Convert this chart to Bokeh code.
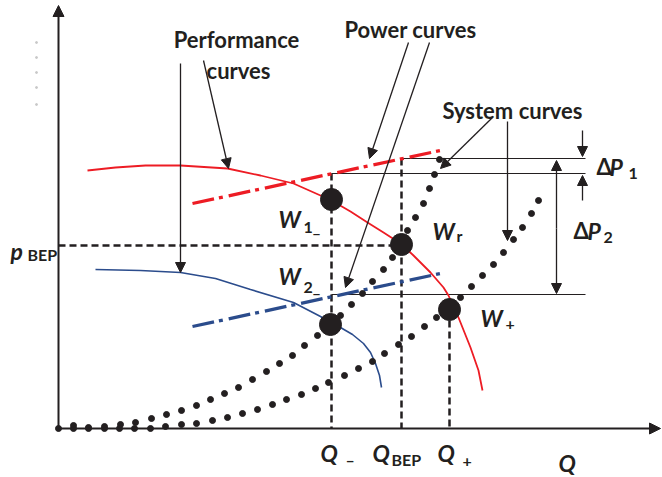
from bokeh.plotting import figure
from bokeh.models import Range1d, Arrow, NormalHead, ColumnDataSource
from bokeh.core.properties import value
from bokeh.embed import file_html
from bokeh.resources import INLINE

# ---- data (Q = flow, P = pressure) ----
red_Q = [29, 57, 87, 122, 169, 202, 235, 262, 273, 292, 309, 325, 342, 355, 372, 385, 390, 400, 412, 420, 424]
red_P = [258, 261, 263, 263, 260, 253, 245, 233, 228, 217, 206, 196, 185, 173, 156, 141, 133, 111, 81, 58, 38]

blue_Q = [37, 82, 122, 157, 192, 235, 262, 272, 282, 294, 305, 312, 317, 321, 323]
blue_P = [159, 158, 156, 150, 139, 126, 112, 106, 101, 94, 85, 76, 65, 53, 41]

power_red_Q = [134, 382]
power_red_P = [225, 278]
power_blue_Q = [134, 382]
power_blue_P = [102, 155]

sys1_Q = [0, 15, 30, 46, 62, 77, 93, 108, 123, 138, 152, 166, 180, 194, 208, 221, 234, 246, 259,
          282, 293, 304, 314, 325, 334, 349, 357, 365, 371, 376, 381]
sys1_P = [0, 3, 1, 2, 4, 6, 10, 14, 18, 23, 29, 35, 41, 49, 57, 65, 73, 83, 93,
          113, 124, 135, 147, 159, 171, 198, 211, 225, 240, 254, 269]

sys2_Q = [15, 30, 46, 61, 76, 92, 107, 123, 138, 154, 169, 184, 199, 214, 228, 243, 257, 270, 286, 300,
          314, 326, 340, 353, 366, 378, 402, 413, 424, 435, 445, 455, 464, 473, 480]
sys2_P = [0, 0, 0, 0, 0, 0, 2, 4, 5, 8, 11, 15, 19, 24, 29, 34, 40, 46, 53, 60,
          67, 75, 84, 92, 102, 111, 131, 142, 153, 164, 176, 189, 201, 215, 228]

op_names = ["W1_", "Wr", "W2_", "W+"]
op_Q = [273, 343, 272, 391]
op_P = [229, 184, 104, 119]

Q_minus, Q_bep, Q_plus = 273, 343, 391
p_bep = 183
dp_levels = [270, 255, 134]

BLACK = "#231f20"
RED = "#ed1c24"
BLUE = "#2b4c8c"
FONT = value("Lato")

p = figure(width=662, height=477, x_range=Range1d(-58, 604), y_range=Range1d(-49, 428),
           output_backend="svg", toolbar_location=None, min_border=0,
           x_axis_type=None, y_axis_type=None)
p.grid.visible = False
p.outline_line_color = None
p.background_fill_color = "white"
p.border_fill_color = "white"

# faint specks left of the axis
p.scatter([-22] * 5, [386, 371, 356, 341, 324], size=2, color="#c8c8c8")

# axes with arrowheads
axes_src = ColumnDataSource(dict(x0=[0, 0], y0=[0, 0], x1=[0, 602], y1=[423, 0]))
p.add_layout(Arrow(source=axes_src, x_start="x0", y_start="y0", x_end="x1", y_end="y1",
                   line_width=2, line_color=BLACK,
                   end=NormalHead(size=11, fill_color=BLACK, line_color=BLACK)))

# dashed reference lines
p.segment(x0=[0, Q_minus, Q_bep, Q_plus], y0=[p_bep, 255, 270, op_P[3]],
          x1=[Q_bep, Q_minus, Q_bep, Q_plus], y1=[p_bep, 0, 0, 0],
          line_color=BLACK, line_width=2.5, line_dash="7 4")

# thin horizontal lines to delta-P
p.segment(x0=[Q_bep, Q_minus, Q_minus], y0=dp_levels, x1=[527, 527, 527], y1=dp_levels,
          line_color=BLACK, line_width=1.2)

# performance curves
p.line(red_Q, red_P, line_color=RED, line_width=1.8)
p.line(blue_Q, blue_P, line_color=BLUE, line_width=1.6)

# power curves (dash-dot)
p.line(power_red_Q, power_red_P, line_color=RED, line_width=3.3, line_dash="22 5 4 6")
p.line(power_blue_Q, power_blue_P, line_color=BLUE, line_width=3.3, line_dash="22 5 4 6")

# system curves (dotted)
p.scatter(sys1_Q, sys1_P, size=6, color=BLACK)
p.scatter(sys2_Q, sys2_P, size=6, color=BLACK)

# operating points
p.scatter(op_Q, op_P, size=22, color=BLACK)

# annotation arrows
ann = ColumnDataSource(dict(
    x0=[122, 145, 350, 371, 434, 449, 524, 524],
    y0=[365, 368, 386, 386, 311, 307, 298, 228],
    x1=[122, 170, 311, 287, 382, 449, 524, 524],
    y1=[156, 260, 270, 141, 260, 188, 272, 253]))
p.add_layout(Arrow(source=ann, x_start="x0", y_start="y0", x_end="x1", y_end="y1",
                   line_width=1.3, line_color=BLACK,
                   end=NormalHead(size=10, fill_color=BLACK, line_color=BLACK)))
p.add_layout(Arrow(x_start=498, y_start=200, x_end=498, y_end=268,
                   line_width=1.3, line_color=BLACK,
                   end=NormalHead(size=10, fill_color=BLACK, line_color=BLACK)))
p.add_layout(Arrow(x_start=498, y_start=200, x_end=498, y_end=135,
                   line_width=1.3, line_color=BLACK,
                   end=NormalHead(size=10, fill_color=BLACK, line_color=BLACK)))

# caption labels
p.text(x=[178, 180, 352, 454], y=[389, 358, 399, 318],
       text=["Performance", "curves", "Power curves", "System curves"],
       text_font=FONT, text_font_style="bold", text_font_size="22px",
       text_align="center", text_baseline="alphabetic", text_color=BLACK)

# main italic symbols
p.text(x=[220, 220, 374, 422, -48, 262, 314, 379, 500, 551, 529],
       y=[210, 153, 198, 111, 178, -24, -24, -24, -34, 262, 198],
       text=["W", "W", "W", "W", "p", "Q", "Q", "Q", "Q", "P", "P"],
       text_font=FONT, text_font_style="bold italic", text_font_size="23px",
       text_align="left", text_baseline="alphabetic", text_color=BLACK)

# delta symbols (upright)
p.text(x=[538, 515], y=[262, 198], text=["Δ", "Δ"],
       text_font=FONT, text_font_style="bold", text_font_size="22px",
       text_align="left", text_baseline="alphabetic", text_color=BLACK)

# subscripts
p.text(x=[245, 245, 398, 447, -31, 287, 333, 404, 570, 545],
       y=[202, 142, 193, 104, 174, -31, -31, -33, 255, 191],
       text=["1_", "2_", "r", "+", "BEP", "–", "BEP", "+", "1", "2"],
       text_font=FONT, text_font_style="bold", text_font_size="16px",
       text_align="left", text_baseline="alphabetic", text_color=BLACK)

open("out.html", "w").write(file_html(p, INLINE))
